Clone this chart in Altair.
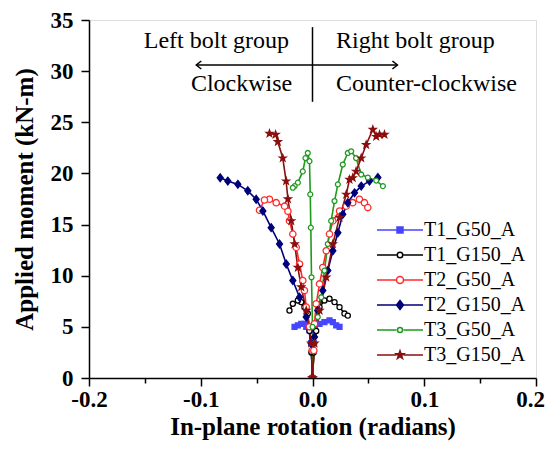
import re
import json
import altair as alt
import pandas as pd

# ---------------- data ----------------
series_names = ["T1_G50_A", "T1_G150_A", "T2_G50_A", "T2_G150_A", "T3_G50_A", "T3_G150_A"]

t1g50_left_x = [0.0, -0.0012, -0.0027, -0.0056, -0.0072, -0.0101, -0.0131, -0.0161]
t1g50_left_y = [0.0, 3.4, 4.67, 5.0, 5.3, 5.3, 5.15, 5.0]
t1g50_right_x = [0.0, 0.0012, 0.0018, 0.0063, 0.0107, 0.0152, 0.0182, 0.0212, 0.0242]
t1g50_right_y = [0.0, 3.4, 5.0, 5.3, 5.47, 5.64, 5.47, 5.15, 5.0]

t1g150_left_x = [0.0, -0.001, -0.0027, -0.0042, -0.0072, -0.0101, -0.0131, -0.0176, -0.0206]
t1g150_left_y = [0.0, 2.5, 4.6, 6.3, 6.93, 7.42, 7.58, 7.26, 6.6]
t1g150_right_x = [0.0, 0.001, 0.0033, 0.0063, 0.0107, 0.0152, 0.0197, 0.0242, 0.0286, 0.0316]
t1g150_right_y = [0.0, 2.5, 4.6, 6.93, 7.58, 7.75, 7.42, 6.93, 6.3, 6.1]

t2g50_left_x = [0.0, -0.0003, -0.0027, -0.0056, -0.0072, -0.0087, -0.0116, -0.0146, -0.0176,
                -0.0206, -0.022, -0.025, -0.0325, -0.0385, -0.043, -0.0474]
t2g50_left_y = [0.0, 2.7, 5.0, 6.93, 8.56, 9.53, 11.15, 12.77, 14.07,
                15.36, 16.3, 16.8, 17.14, 17.47, 17.4, 16.4]
t2g50_right_x = [0.0, 0.0012, 0.0018, 0.0033, 0.0063, 0.0092, 0.0123, 0.0152, 0.0182,
                 0.0242, 0.0302, 0.036, 0.042, 0.0465, 0.0495]
t2g50_right_y = [0.0, 2.7, 5.3, 7.26, 9.2, 10.8, 12.44, 14.07, 15.36,
                 16.33, 16.8, 17.14, 17.47, 17.14, 16.66]

t2g150_left_x = [0.0, -0.0012, -0.0056, -0.0116, -0.0176, -0.0235, -0.0295, -0.037, -0.0444,
                 -0.0504, -0.0579, -0.0668, -0.0758, -0.0826]
t2g150_left_y = [0.0, 3.4, 5.96, 7.9, 9.53, 11.15, 13.1, 14.7, 16.33,
                 17.47, 18.3, 18.93, 19.25, 19.57]
t2g150_right_x = [0.0, 0.0018, 0.0047, 0.0092, 0.0137, 0.0182, 0.0227, 0.0271, 0.0316,
                  0.0376, 0.0436, 0.051, 0.0585]
t2g150_right_y = [0.0, 4.0, 6.6, 8.56, 10.5, 12.44, 14.2, 16.0, 17.14,
                  18.1, 18.76, 19.25, 19.6]

t3g50_left_x = [0.0, 0.0, -0.0009, -0.0015, -0.002, -0.0027, -0.0042, -0.0063, -0.0087,
                -0.0131, -0.016, -0.0176]
t3g50_left_y = [0.0, 5.0, 9.85, 14.7, 17.95, 21.2, 22.0, 21.5, 20.2,
                19.1, 18.76, 18.6]
t3g50_right_x = [0.0, 0.0018, 0.0047, 0.0078, 0.0107, 0.0137, 0.0167, 0.0197, 0.0227,
                 0.0271, 0.0316, 0.0346, 0.039, 0.0436, 0.0495, 0.057, 0.063]
t3g50_right_y = [0.0, 3.4, 5.96, 7.9, 10.5, 13.1, 15.36, 17.3, 18.93,
                 20.87, 22.0, 22.17, 21.5, 19.9, 19.6, 19.3, 18.76]

t3g150_left_x = [0.0, -0.0012, -0.0056, -0.0101, -0.0131, -0.016, -0.019, -0.022, -0.0236,
                 -0.0266, -0.031, -0.033, -0.0385]
t3g150_left_y = [0.0, 3.4, 6.6, 8.9, 10.8, 13.1, 15.36, 17.5, 19.25,
                 21.5, 23.1, 23.8, 23.9]
t3g150_right_x = [0.0, 0.0018, 0.0063, 0.0123, 0.0182, 0.0242, 0.0302, 0.0331, 0.036,
                  0.039, 0.0436, 0.048, 0.054, 0.057, 0.06, 0.0644]
t3g150_right_y = [0.0, 3.4, 6.6, 9.85, 13.1, 15.7, 17.95, 19.4, 19.57,
                  20.2, 21.5, 22.8, 24.3, 23.6, 23.8, 23.8]

# annotation
note_texts = ["Left bolt group", "Right bolt group", "Clockwise", "Counter-clockwise"]
note_x = [-0.086, 0.092, -0.0635, 0.102]
note_y = [32.9, 32.9, 28.7, 28.7]
divider_x = [0.0]
divider_y = [27.0]
divider_y2 = [34.3]
arrow_x = [-0.104]
arrow_x2 = [0.076]
arrow_y = [30.6]

x_ticks = [-0.2, -0.15, -0.1, -0.05, 0.0, 0.05, 0.1, 0.15, 0.2]
y_ticks = [0, 2.5, 5, 7.5, 10, 12.5, 15, 17.5, 20, 22.5, 25, 27.5, 30, 32.5, 35]

# ---------------- styles ----------------
stroke_colors = ["#4646ff", "#000000", "#ff2b2b", "#00007a", "#1f9a1f", "#8b0f0f"]
fill_colors = ["#4646ff", "#ffffff", "#ffffff", "#00007a", "#ffffff", "#8b0f0f"]


def circle_path(r):
    return f"M-{r},0A{r},{r} 0 1,0 {r},0A{r},{r} 0 1,0 -{r},0Z"


def scale_path(p, s):
    # scale a path made only of M/L/H/V/Z commands
    return re.sub(r"-?\d+\.?\d*", lambda g: str(round(float(g.group(0)) * s, 3)), p)


SQ = "M-1,-1H1V1H-1Z"
DI = "M0,-1.3L1,0L0,1.3L-1,0Z"
ST = ("M0,-1.2L0.28,-0.4L1.14,-0.37L0.46,0.15L0.71,0.97L0,0.48L-0.71,0.97"
      "L-0.46,0.15L-1.14,-0.37L-0.28,-0.4Z")
marker_paths = [SQ, circle_path(1), circle_path(1), DI, circle_path(1), ST]
marker_sizes = [24, 26, 40, 36, 24, 36]

LS = 0.7  # marker scale inside the legend symbol
legend_marks = [scale_path(SQ, 0.6), circle_path(0.55), circle_path(0.7), scale_path(DI, LS),
                circle_path(0.5), scale_path(ST, LS)]
legend_paths = [f"M-4.6,0H-0.7M0.7,0H4.6" + m for m in legend_marks]
shape_lookup = json.dumps(dict(zip(series_names, legend_paths)))
fill_lookup = json.dumps(dict(zip(series_names, fill_colors)))

branches = [
    ("T1_G50_A", "L", t1g50_left_x, t1g50_left_y), ("T1_G50_A", "R", t1g50_right_x, t1g50_right_y),
    ("T1_G150_A", "L", t1g150_left_x, t1g150_left_y), ("T1_G150_A", "R", t1g150_right_x, t1g150_right_y),
    ("T2_G50_A", "L", t2g50_left_x, t2g50_left_y), ("T2_G50_A", "R", t2g50_right_x, t2g50_right_y),
    ("T2_G150_A", "L", t2g150_left_x, t2g150_left_y), ("T2_G150_A", "R", t2g150_right_x, t2g150_right_y),
    ("T3_G50_A", "L", t3g50_left_x, t3g50_left_y), ("T3_G50_A", "R", t3g50_right_x, t3g50_right_y),
    ("T3_G150_A", "L", t3g150_left_x, t3g150_left_y), ("T3_G150_A", "R", t3g150_right_x, t3g150_right_y),
]
rows = []
for s, b, xs, ys in branches:
    k = series_names.index(s)
    for i, (xv, yv) in enumerate(zip(xs, ys)):
        rows.append({"series": s, "branch": s + b, "idx": i, "x": xv, "y": yv,
                     "marker": marker_paths[k], "fillc": fill_colors[k],
                     "msize": marker_sizes[k]})
df = pd.DataFrame(rows)

FONT = "Liberation Serif"
xs_scale = alt.Scale(domain=[-0.2, 0.2], nice=False, zero=False)
ys_scale = alt.Scale(domain=[0, 35], nice=False, zero=False)
stroke_scale = alt.Scale(domain=series_names, range=stroke_colors)

x_major = "abs(round(datum.value * 20)) % 2 == 0"
y_major = "round(datum.value * 2) % 10 == 0"

x_axis = alt.Axis(values=x_ticks, title="In-plane rotation (radians)",
                  labelExpr=f"{x_major} ? ((datum.value < -0.001 ? '-' : '') + format(abs(datum.value), '.1f')) : ''",
                  labelFont=FONT, labelFontWeight="bold", labelFontSize=23, labelColor="black",
                  labelFlush=False, labelPadding=2,
                  labelOffset={"condition": {"test": "datum.value > 0.19", "value": -6}, "value": 0},
                  titleFont=FONT, titleFontWeight="bold", titleFontSize=25, titleColor="black",
                  titlePadding=3,
                  tickSize={"condition": {"test": x_major, "value": 8}, "value": 5},
                  tickWidth=1.5, tickColor="black", domainColor="black", domainWidth=1.5,
                  grid=False, orient="bottom")
y_axis = alt.Axis(values=y_ticks, title="Applied moment (kN-m)",
                  labelExpr=f"{y_major} ? format(datum.value, 'd') : ''",
                  labelFont=FONT, labelFontWeight="bold", labelFontSize=23, labelColor="black",
                  labelFlush=False, labelPadding=8,
                  titleFont=FONT, titleFontWeight="bold", titleFontSize=25, titleColor="black",
                  titlePadding=13,
                  tickSize={"condition": {"test": y_major, "value": 8}, "value": 5},
                  tickWidth=1.5, tickColor="black", domainColor="black", domainWidth=1.5,
                  grid=False, orient="left")

legend_def = alt.Legend(
    title=None, orient="none", legendX=301, legendY=200,
    labelFont=FONT, labelFontSize=20, labelColor="black",
    symbolSize=100, symbolStrokeWidth=1.5, labelOffset=14, rowPadding=5, padding=0,
    symbolType={"expr": f"{shape_lookup}[datum.value]"},
    symbolFillColor={"expr": f"{fill_lookup}[datum.value]"},
    symbolOpacity=1,
)

base = alt.Chart(df)

lines = base.mark_line(strokeWidth=1.6, clip=True).encode(
    x=alt.X("x:Q", scale=xs_scale, axis=x_axis),
    y=alt.Y("y:Q", scale=ys_scale, axis=y_axis),
    stroke=alt.Stroke("series:N", scale=stroke_scale, legend=legend_def),
    detail="branch:N",
    order="idx:Q",
)

points = base.mark_point(filled=False, strokeWidth=1.3, opacity=1, clip=True).encode(
    x=alt.X("x:Q", scale=xs_scale),
    y=alt.Y("y:Q", scale=ys_scale),
    stroke=alt.Stroke("series:N", scale=stroke_scale, legend=None),
    fill=alt.Fill("fillc:N", scale=None),
    shape=alt.Shape("marker:N", scale=None),
    size=alt.Size("msize:Q", scale=None),
)

notes_df = pd.DataFrame({"t": note_texts, "x": note_x, "y": note_y})
notes = alt.Chart(notes_df).mark_text(font=FONT, fontSize=24, color="black", align="center",
                                      baseline="middle").encode(
    x=alt.X("x:Q", scale=xs_scale),
    y=alt.Y("y:Q", scale=ys_scale),
    text="t:N",
)

div_df = pd.DataFrame({"x": divider_x, "y": divider_y, "y2": divider_y2})
divider = alt.Chart(div_df).mark_rule(color="black", strokeWidth=1.5).encode(
    x=alt.X("x:Q", scale=xs_scale),
    y=alt.Y("y:Q", scale=ys_scale),
    y2="y2:Q",
)

arr_df = pd.DataFrame({"x": arrow_x, "x2": arrow_x2, "y": arrow_y})
arrow_line = alt.Chart(arr_df).mark_rule(color="black", strokeWidth=1.5).encode(
    x=alt.X("x:Q", scale=xs_scale),
    x2="x2:Q",
    y=alt.Y("y:Q", scale=ys_scale),
)
head_df = pd.DataFrame({"x": [arrow_x[0], arrow_x2[0]], "y": [arrow_y[0], arrow_y[0]],
                        "h": ["M1,-0.8L0,0L1,0.8", "M-1,-0.8L0,0L-1,0.8"]})
heads = alt.Chart(head_df).mark_point(filled=False, color="black", strokeWidth=1.5, size=100,
                                      opacity=1).encode(
    x=alt.X("x:Q", scale=xs_scale),
    y=alt.Y("y:Q", scale=ys_scale),
    shape=alt.Shape("h:N", scale=None),
)

chart = alt.layer(lines, points, notes, divider, arrow_line, heads).properties(
    width=447, height=358,
    autosize=alt.AutoSizeParams(type="none"),
    padding={"left": 81, "top": 12, "right": 9, "bottom": 63},
).configure_view(stroke="black", strokeWidth=1.5).configure(background="white")

chart.save("out.html", embed_options={"renderer": "svg", "actions": False})
